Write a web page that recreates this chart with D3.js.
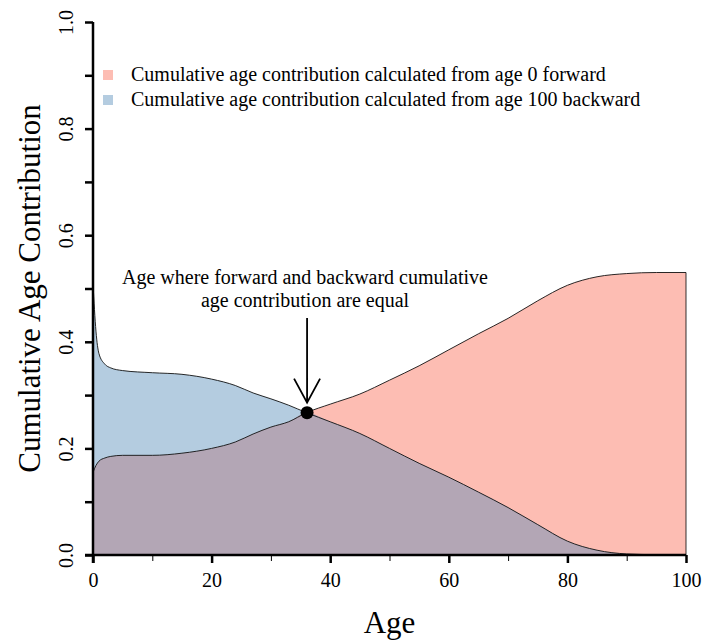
<!DOCTYPE html>
<html>
<head>
<meta charset="utf-8">
<script src="https://cdn.jsdelivr.net/npm/d3@7"></script>
<style>
	body { margin: 0; background: #fff; }
	svg text { font-family: "Liberation Serif", "DejaVu Serif", serif !important; }
</style>
</head>
<body>
<div id="chart"></div>
<script>
const ages = [0, 0.5, 1, 2, 3, 5, 10, 15, 20, 24, 27, 30, 33, 36, 40, 45, 50, 55, 60, 65, 70, 75, 80, 85, 90, 95, 100];
const forward = [0.155, 0.168, 0.176, 0.182, 0.185, 0.187, 0.187, 0.191, 0.2, 0.212, 0.227, 0.24, 0.25, 0.267, 0.283, 0.302, 0.328, 0.355, 0.385, 0.415, 0.444, 0.477, 0.506, 0.522, 0.528, 0.53, 0.53];
const backward = [0.51, 0.42, 0.378, 0.358, 0.351, 0.346, 0.342, 0.339, 0.33, 0.318, 0.304, 0.293, 0.281, 0.267, 0.25, 0.228, 0.2, 0.172, 0.146, 0.118, 0.089, 0.057, 0.026, 0.009, 0.002, 0.0005, 0];
const legendLabels = [
	"Cumulative age contribution calculated from age 0 forward",
	"Cumulative age contribution calculated from age 100 backward"
];
const equalPoint = { age: 36.1, value: 0.267 };
const annotation = ["Age where forward and backward cumulative", "age contribution are equal"];

const width = 707;
const height = 643;
const margin = ({ top: 22, right: 21, bottom: 88, left: 93 });

const colors = { fwd: "#fdbdb3", bwd: "#b4cce0", both: "#b3a6b5" };

const data = ages.map((a, i) => ({ age: a, f: forward[i], b: backward[i] }));

const x = d3.scaleLinear()
	.domain([0, 100])
	.range([margin.left, width - margin.right]);

const y = d3.scaleLinear()
	.domain([0, 1])
	.range([height - margin.bottom, margin.top]);

const svg = d3.select("#chart")
	.append("svg")
	.attr("width", width)
	.attr("height", height)
	.attr("viewBox", [0, 0, width, height]);

const area = key => d3.area()
	.curve(d3.curveMonotoneX)
	.x(d => x(d.age))
	.y0(y(0))
	.y1(d => y(key(d)));

const line = key => d3.line()
	.curve(d3.curveMonotoneX)
	.x(d => x(d.age))
	.y(d => y(key(d)));

svg.append("path")
	.attr("fill", colors.fwd)
	.attr("d", area(d => d.f)(data));

svg.append("path")
	.attr("fill", colors.bwd)
	.attr("d", area(d => d.b)(data));

svg.append("path")
	.attr("fill", colors.both)
	.attr("d", area(d => Math.min(d.f, d.b))(data));

// right edge of the forward area
svg.append("line")
	.attr("x1", x(100)).attr("x2", x(100))
	.attr("y1", y(0)).attr("y2", y(forward[forward.length - 1]))
	.attr("stroke", "#000")
	.attr("stroke-width", 0.8);

for (const key of [d => d.f, d => d.b]) {
	svg.append("path")
		.attr("fill", "none")
		.attr("stroke", "#111")
		.attr("stroke-width", 0.9)
		.attr("d", line(key)(data));
}

// axes
const xAxis = g => g
	.attr("transform", `translate(0,${y(0)})`)
	.call(d3.axisBottom(x).tickValues(d3.range(0, 101, 20)).tickSize(8).tickPadding(10))
	.call(g => g.select(".domain").attr("stroke-width", 2.5).attr("d", `M${x(0) - 8},0H${x(100)}`))
	.call(g => g.selectAll(".tick line").attr("stroke-width", 2.5))
	.call(g => g.selectAll(".tick text").attr("font-size", 20).attr("fill", "#000"));

const xMinor = g => g
	.attr("transform", `translate(0,${y(0)})`)
	.call(d3.axisBottom(x).tickValues(d3.range(10, 100, 20)).tickSize(6).tickFormat(""))
	.call(g => g.select(".domain").remove())
	.call(g => g.selectAll(".tick line").attr("stroke-width", 1));

const yAxis = g => g
	.attr("transform", `translate(${x(0)},0)`)
	.call(d3.axisLeft(y).tickValues(d3.range(0, 1.01, 0.1)).tickSize(8).tickFormat(d => Math.round(d * 10) % 2 === 0 ? d3.format(".1f")(d) : ""))
	.call(g => g.select(".domain").attr("stroke-width", 2.5).attr("d", `M0,${y(1)}V${y(0) + 8}`))
	.call(g => g.selectAll(".tick line").attr("stroke-width", 2.5))
	.call(g => g.selectAll(".tick text")
		.attr("font-size", 20)
		.attr("fill", "#000")
		.attr("text-anchor", "middle")
		.attr("dy", 0)
		.attr("x", 0)
		.attr("transform", "translate(-20,0) rotate(-90)"));

svg.append("g").call(xMinor);
svg.append("g").call(xAxis);
svg.append("g").call(yAxis);

svg.append("text")
	.attr("x", (x(0) + x(100)) / 2)
	.attr("y", 633)
	.attr("text-anchor", "middle")
	.attr("font-size", 31)
	.text("Age");

svg.append("text")
	.attr("transform", `translate(40,${(y(0) + y(1)) / 2}) rotate(-90)`)
	.attr("text-anchor", "middle")
	.attr("font-size", 31)
	.text("Cumulative Age Contribution");

// legend
const legend = svg.append("g")
	.selectAll("g")
	.data(legendLabels)
	.join("g")
	.attr("transform", (d, i) => `translate(103,${75 + i * 25})`);

legend.append("rect")
	.attr("x", 0).attr("y", -5)
	.attr("width", 10).attr("height", 10)
	.attr("fill", (d, i) => i === 0 ? colors.fwd : colors.bwd);

legend.append("text")
	.attr("x", 28)
	.attr("y", 6)
	.attr("font-size", 20)
	.text(d => d);

// annotation
svg.append("text")
	.attr("text-anchor", "middle")
	.attr("font-size", 20)
	.selectAll("tspan")
	.data(annotation)
	.join("tspan")
	.attr("x", 305)
	.attr("y", (d, i) => 284 + i * 23)
	.text(d => d);

const px = x(equalPoint.age);
const py = y(equalPoint.value);

svg.append("path")
	.attr("fill", "none")
	.attr("stroke", "#000")
	.attr("stroke-width", 1.8)
	.attr("d", `M${px},${318}V${py - 10}M${px - 13},${py - 34}L${px},${py - 10}L${px + 13},${py - 34}`);

svg.append("circle")
	.attr("cx", px)
	.attr("cy", py)
	.attr("r", 6.5)
	.attr("fill", "#000");
</script>
</body>
</html>
